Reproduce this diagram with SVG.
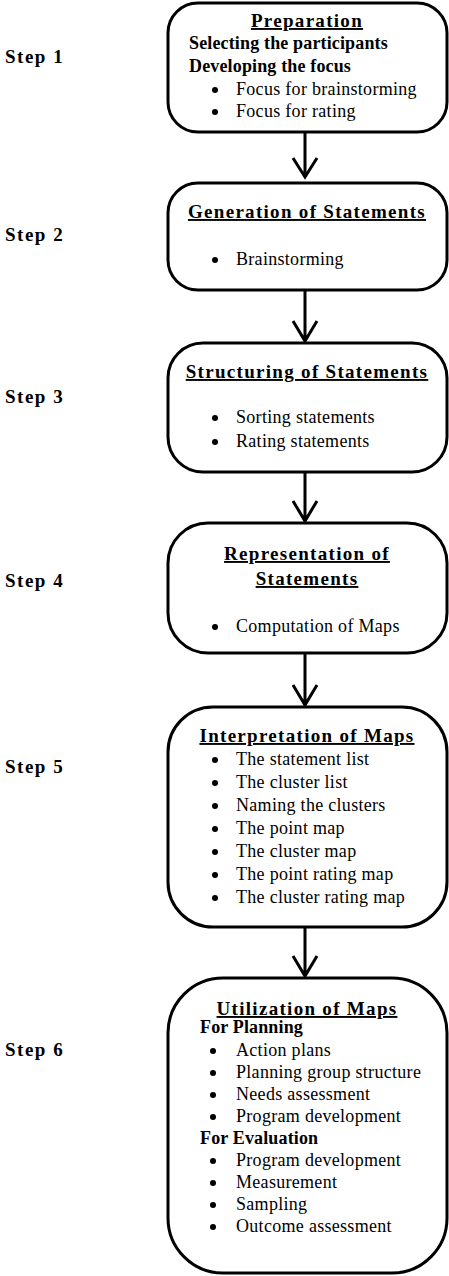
<svg xmlns="http://www.w3.org/2000/svg" width="449" height="1276" viewBox="0 0 449 1276">
<style>
.box{fill:#fff;stroke:#000;stroke-width:3}
.t{font-family:"Liberation Serif",serif;font-weight:bold;font-size:19px;letter-spacing:1.3px;text-anchor:middle;text-decoration:underline}
.h{font-family:"Liberation Serif",serif;font-weight:bold;font-size:18px;letter-spacing:0.15px}
.b{font-family:"Liberation Serif",serif;font-size:18px;letter-spacing:0.3px}
.s{font-family:"Liberation Serif",serif;font-weight:bold;font-size:19px;letter-spacing:1.5px}
.conn{stroke:#000;stroke-width:3;fill:none}
</style>
<defs>
<circle id="dot" r="3" fill="#000"/>
</defs>
<g id="steps">
<text class="s" x="5" y="63">Step 1</text>
<text class="s" x="5" y="241">Step 2</text>
<text class="s" x="5" y="403">Step 3</text>
<text class="s" x="5" y="587">Step 4</text>
<text class="s" x="5" y="773">Step 5</text>
<text class="s" x="5" y="1056">Step 6</text>
</g>
<g id="connectors">
<path class="conn" d="M305 132V177M293 158L305 177L317 158"/>
<path class="conn" d="M305 290V341M293 321L305 341L317 321"/>
<path class="conn" d="M305 472V521M293 501L305 521L317 501"/>
<path class="conn" d="M305 653V705M293 685L305 705L317 685"/>
<path class="conn" d="M305 927V976M293 956L305 976L317 956"/>
</g>
<g id="n1">
<rect class="box" x="168" y="3" width="279" height="129" rx="30"/>
<text class="t" x="307" y="27">Preparation</text>
<text class="h" x="189" y="49">Selecting the participants</text>
<text class="h" x="189" y="72">Developing the focus</text>
<use href="#dot" x="215" y="90"/><text class="b" x="236" y="95">Focus for brainstorming</text>
<use href="#dot" x="215" y="112"/><text class="b" x="236" y="117">Focus for rating</text>
</g>
<g id="n2">
<rect class="box" x="168" y="183" width="279" height="107" rx="30"/>
<text class="t" x="307" y="218">Generation of Statements</text>
<use href="#dot" x="215" y="260"/><text class="b" x="236" y="265">Brainstorming</text>
</g>
<g id="n3">
<rect class="box" x="168" y="343" width="279" height="129" rx="35"/>
<text class="t" x="307" y="378">Structuring of Statements</text>
<use href="#dot" x="215" y="418"/><text class="b" x="236" y="423">Sorting statements</text>
<use href="#dot" x="215" y="442"/><text class="b" x="236" y="447">Rating statements</text>
</g>
<g id="n4">
<rect class="box" x="168" y="523" width="279" height="130" rx="40"/>
<text class="t" x="307" y="560">Representation of</text>
<text class="t" x="307" y="585">Statements</text>
<use href="#dot" x="215" y="627"/><text class="b" x="236" y="632">Computation of Maps</text>
</g>
<g id="n5">
<rect class="box" x="168" y="707" width="279" height="220" rx="45"/>
<text class="t" x="307" y="742">Interpretation of Maps</text>
<use href="#dot" x="215" y="760"/><text class="b" x="236" y="765">The statement list</text>
<use href="#dot" x="215" y="783"/><text class="b" x="236" y="788">The cluster list</text>
<use href="#dot" x="215" y="806"/><text class="b" x="236" y="811">Naming the clusters</text>
<use href="#dot" x="215" y="829"/><text class="b" x="236" y="834">The point map</text>
<use href="#dot" x="215" y="852"/><text class="b" x="236" y="857">The cluster map</text>
<use href="#dot" x="215" y="875"/><text class="b" x="236" y="880">The point rating map</text>
<use href="#dot" x="215" y="898"/><text class="b" x="236" y="903">The cluster rating map</text>
</g>
<g id="n6">
<rect class="box" x="168" y="978" width="279" height="295" rx="55"/>
<text class="t" x="307" y="1015">Utilization of Maps</text>
<text class="h" x="200" y="1033">For Planning</text>
<use href="#dot" x="213" y="1051"/><text class="b" x="236" y="1056">Action plans</text>
<use href="#dot" x="213" y="1073"/><text class="b" x="236" y="1078">Planning group structure</text>
<use href="#dot" x="213" y="1095"/><text class="b" x="236" y="1100">Needs assessment</text>
<use href="#dot" x="213" y="1117"/><text class="b" x="236" y="1122">Program development</text>
<text class="h" x="200" y="1144">For Evaluation</text>
<use href="#dot" x="213" y="1161"/><text class="b" x="236" y="1166">Program development</text>
<use href="#dot" x="213" y="1183"/><text class="b" x="236" y="1188">Measurement</text>
<use href="#dot" x="213" y="1205"/><text class="b" x="236" y="1210">Sampling</text>
<use href="#dot" x="213" y="1227"/><text class="b" x="236" y="1232">Outcome assessment</text>
</g>
</svg>
